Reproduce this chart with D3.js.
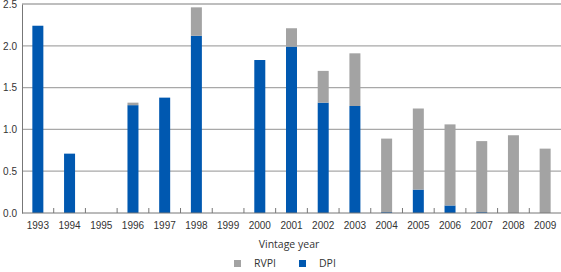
<!DOCTYPE html>
<html>
<head>
<meta charset="utf-8">
<script src="https://cdn.jsdelivr.net/npm/d3@7"></script>
<style>
  body { margin: 0; background: #fff; }
  svg { display: block; font-family: "Open Sans", "Noto Sans", sans-serif; }
  .grid line { stroke: #a8a8a8; stroke-width: 1.3; }
  .axis text { fill: #333; font-size: 10px; }
  .axis path, .axis line { stroke: #777; }
</style>
</head>
<body>
<script>
// vintage years and values
let years = ["1993","1994","1995","1996","1997","1998","1999","2000","2001",
             "2002","2003","2004","2005","2006","2007","2008","2009"];
let dpi  = [2.24, 0.71, 0, 1.29, 1.38, 2.12, 0, 1.83, 1.99, 1.32, 1.28, 0.01, 0.28, 0.09, 0.01, 0, 0];
let rvpi = [0, 0, 0, 0.03, 0, 0.34, 0, 0, 0.22, 0.38, 0.63, 0.88, 0.97, 0.97, 0.85, 0.93, 0.77];
let yTicks = [0, 0.5, 1.0, 1.5, 2.0, 2.5];

let width = 561, height = 272;
let plotLeft = 22, plotRight = 561, plotTop = 4, plotBottom = 213;

let svg = d3.select("body").append("svg")
    .attr("width", width)
    .attr("height", height);

let x = d3.scaleBand().domain(years).range([plotLeft, plotRight]).paddingInner(0).paddingOuter(0);
let y = d3.scaleLinear().domain([0, 2.5]).range([plotBottom, plotTop]);

// gridlines
svg.append("g").attr("class", "grid")
    .selectAll("line")
    .data(yTicks.slice(1))
    .enter().append("line")
    .attr("x1", plotLeft).attr("x2", plotRight)
    .attr("y1", d => y(d)).attr("y2", d => y(d));

// stacked data
let rows = years.map((yr, i) => ({ year: yr, dpi: dpi[i], rvpi: rvpi[i] }));
let stack = d3.stack().keys(["dpi", "rvpi"])(rows);
let colors = { dpi: "#0058b0", rvpi: "#a3a3a3" };
let barW = 11;

svg.selectAll(".series")
    .data(stack)
    .enter().append("g")
    .attr("fill", d => colors[d.key])
    .selectAll("rect")
    .data(d => d)
    .enter().append("rect")
    .attr("x", d => x(d.data.year) + x.bandwidth() / 2 - barW / 2)
    .attr("width", barW)
    .attr("y", d => y(d[1]))
    .attr("height", d => y(d[0]) - y(d[1]));

// y axis
let yAxis = svg.append("g").attr("class", "axis")
    .attr("transform", `translate(${plotLeft},0)`)
    .call(d3.axisLeft(y).tickValues(yTicks).tickFormat(d3.format(".1f")).tickSize(0).tickPadding(5));
yAxis.select(".domain").attr("stroke", "#777");

// x axis with ticks between bands
let xAxis = svg.append("g").attr("class", "axis")
    .attr("transform", `translate(0,${plotBottom})`)
    .call(d3.axisBottom(x).tickSize(0).tickPadding(9));
xAxis.select(".domain").attr("d", `M${plotLeft},0H${plotRight}`).attr("stroke", "#777");
xAxis.selectAll(".sep")
    .data(years.slice(1))
    .enter().append("line")
    .attr("x1", d => x(d)).attr("x2", d => x(d))
    .attr("y1", 0).attr("y2", -5)
    .attr("stroke", "#777");

// axis title
svg.append("text")
    .attr("x", 289).attr("y", 248)
    .attr("text-anchor", "middle")
    .attr("font-size", 10.5)
    .attr("fill", "#333")
    .text("Vintage year");

// legend
let legend = [{ name: "RVPI", key: "rvpi", x: 234 }, { name: "DPI", key: "dpi", x: 299 }];
let lg = svg.selectAll(".legend")
    .data(legend)
    .enter().append("g")
    .attr("transform", d => `translate(${d.x},260)`);
lg.append("rect").attr("width", 7).attr("height", 7).attr("fill", d => colors[d.key]);
lg.append("text")
    .attr("x", 20).attr("y", 7)
    .attr("font-size", 10.5)
    .attr("fill", "#333")
    .text(d => d.name);
</script>
</body>
</html>
